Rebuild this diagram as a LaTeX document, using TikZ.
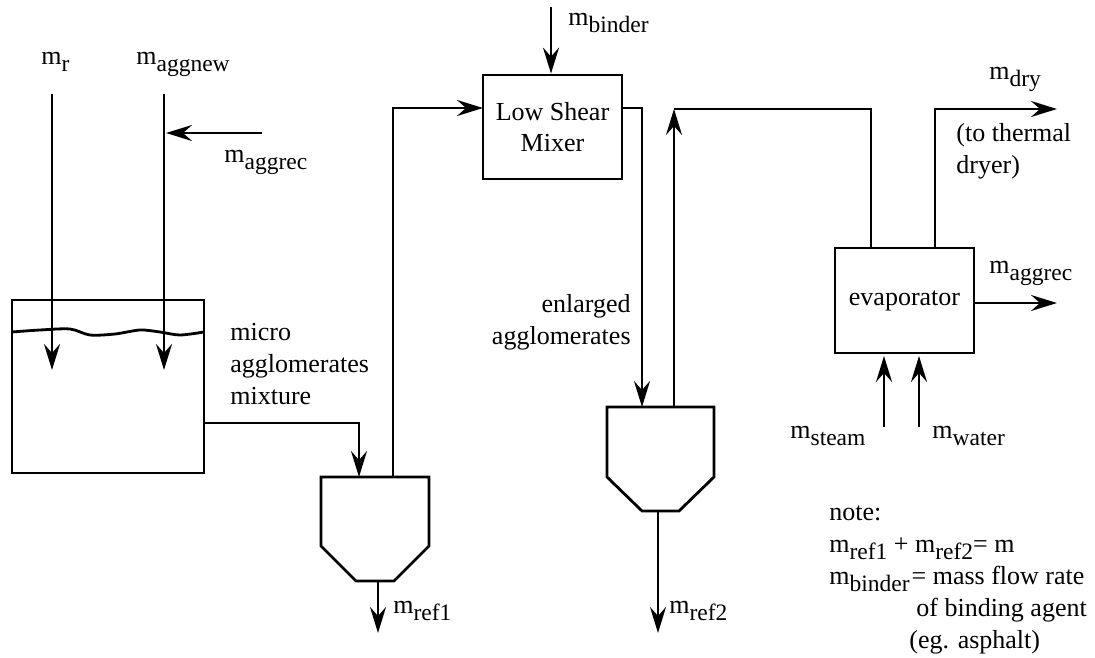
\documentclass[tikz,border=0pt]{standalone}
\usepackage{fontspec}
\setmainfont{Liberation Serif}
\usetikzlibrary{arrows.meta}
\newcommand{\ms}[1]{m\raisebox{-7pt}{\fontsize{23.5}{24}\selectfont #1}}
\begin{document}
\begin{tikzpicture}[x=1pt,y=-1pt,line width=2.8pt,
  arr/.style={-{Stealth[length=26pt,width=16pt,inset=9pt]}},
  lbl/.style={anchor=base west,inner sep=0pt,font=\fontsize{26}{32}\selectfont},
  unit/.style={draw,rectangle,inner sep=0pt,align=center,font=\fontsize{26}{31}\selectfont}]
\useasboundingbox (0,0) rectangle (1095,658);
% units
\node[unit,minimum width=192pt,minimum height=173pt] (tank) at (108,386.5) {};
\node[unit,minimum width=139pt,minimum height=104pt] (mixer) at (552.5,127) {Low Shear\\Mixer};
\node[unit,minimum width=139pt,minimum height=105pt] (evap) at (904.5,300.5) {evaporator};
\draw plot[smooth] coordinates {(12,332) (40,330) (70,329) (90,335) (115,334) (140,330) (160,332) (180,335) (204,332)};
\draw (321,477) coordinate (h1tl) -- (429,477) coordinate (h1tr) -- (429,546) -- (394,581) -- (356,581) -- (321,546) -- cycle;
\draw (607,407) coordinate (h2tl) -- (714,407) coordinate (h2tr) -- (714,477) -- (679,511) -- (642,511) -- (607,477) -- cycle;
% coordinates
\coordinate (h1in) at (359,477);
\coordinate (h1up) at (393,477);
\coordinate (h1out) at (378,581);
\coordinate (h2in) at (642,407);
\coordinate (h2up) at (674,407);
\coordinate (h2out) at (658,511);
\coordinate (mixin) at (483,108);
\coordinate (mixout) at (622,108);
\coordinate (mr0) at (52,94);
\coordinate (mr1) at (52,370);
\coordinate (mn0) at (164,94);
\coordinate (mn1) at (164,370);
\coordinate (mrec0) at (262,133);
\coordinate (mrec1) at (166,133);
\coordinate (tankout) at (204,423);
\coordinate (bind0) at (551,7);
\coordinate (top2) at (674,109);
\coordinate (evin) at (871,248);
\coordinate (evdry) at (935,248);
\coordinate (dryend) at (1057,109);
\coordinate (evrec) at (974,303);
\coordinate (recend) at (1057,303);
\coordinate (st0) at (884,427);
\coordinate (st1) at (884,356);
\coordinate (wa0) at (919,427);
\coordinate (wa1) at (919,356);
\coordinate (r1end) at (378,633);
\coordinate (r2end) at (658,633);
% connectors
\draw[arr] (mr0) -- (mr1);
\draw[arr] (mn0) -- (mn1);
\draw[arr] (mrec0) -- (mrec1);
\draw[arr] (tankout) -| (h1in);
\draw[arr] (h1up) |- (mixin);
\draw[arr] (bind0) -- (mixer.north -| bind0);
\draw[arr] (mixout) -| (h2in);
\draw[arr] (h2up) -- (top2);
\draw (top2) -| (evin);
\draw[arr] (evdry) |- (dryend);
\draw[arr] (evrec) -- (recend);
\draw[arr] (st0) -- (st1);
\draw[arr] (wa0) -- (wa1);
\draw[arr] (h1out) -- (r1end);
\draw[arr] (h2out) -- (r2end);
% labels (multi-line nodes: base = last line)
\node[lbl] (lr) at (40,65) {\ms{r}};
\node[lbl] (lnew) at (135,65) {\ms{aggnew}};
\node[lbl] (lrec) at (223,162) {\ms{aggrec}};
\node[lbl] (lbind) at (567,26) {\ms{binder}};
\node[lbl,align=left] (lmicro) at (229,404) {micro\\agglomerates\\mixture};
\node[lbl,anchor=base east,align=right] (lenl) at (632,344) {enlarged\\agglomerates};
\node[lbl] (lref1) at (392,613) {\ms{ref1}};
\node[lbl] (lref2) at (668,613) {\ms{ref2}};
\node[lbl] (ldry) at (988,80) {\ms{dry}};
\node[lbl,align=left] (lto) at (955,173) {(to thermal\\dryer)};
\node[lbl] (lrec2) at (988,273) {\ms{aggrec}};
\node[lbl] (lst) at (789,438) {\ms{steam}};
\node[lbl] (lwa) at (931,438) {\ms{water}};
\node[lbl,align=left] (lnote) at (828,648) {note:\\\ms{ref1} + \ms{ref2}= m\\\ms{binder}\kern2pt= mass flow rate\\\hspace*{87pt}of binding agent\\\hspace*{80pt}(eg. asphalt)};
\end{tikzpicture}
\end{document}
